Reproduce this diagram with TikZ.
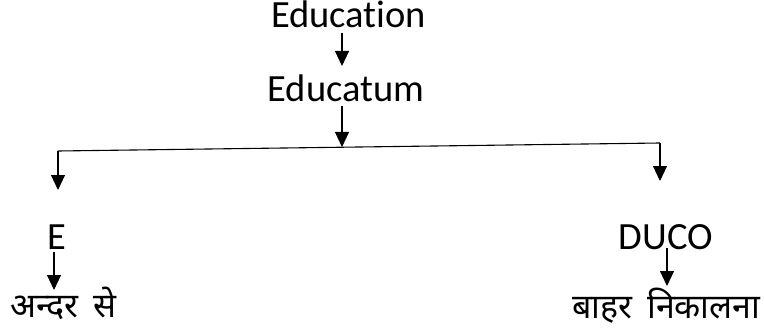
\documentclass[tikz,border=0pt]{standalone}
\usepackage{fontspec}
\setmainfont[Ligatures=NoCommon]{Carlito}
\newfontfamily\hindi[Script=Devanagari]{Noto Sans}
\usetikzlibrary{arrows.meta}
\tikzset{
  lbl/.style={anchor=base, inner sep=0pt, font=\fontsize{38.5}{44}\selectfont},
  hlbl/.style={anchor=base west, inner sep=0pt, font=\hindi\fontsize{34}{40}\selectfont},
  arr/.style={line width=1.1pt, -{Triangle[width=14pt,length=15pt]}},
  ln/.style={line width=1.1pt}
}
\begin{document}
\begin{tikzpicture}[x=1pt,y=-1pt]
\useasboundingbox (0,0) rectangle (764,329);
\node[lbl] (edu) at (348.5,28) {Education};
\node[lbl] (educatum) at (346,102) {Educatum};
\node[lbl] (e) at (57,249) {E};
\node[lbl] (duco) at (666,249) {DUCO};
\node[hlbl] (andar) at (10,317) {अन्दर\hspace{6pt} से};
\node[hlbl] (bahar) at (572,318) {बाहर\hspace{6pt} निकालना};
% connector points
\coordinate (a1s) at (342,33);
\coordinate (a1e) at (342,66);
\coordinate (a2s) at (342,106);
\coordinate (mid) at (342,147);
\coordinate (lc) at (58,151);
\coordinate (rc) at (660,143);
\coordinate (lend) at (58,190);
\coordinate (rend) at (660,181);
\coordinate (ea) at (54,252);
\coordinate (eb) at (54,290);
\coordinate (da) at (667,248);
\coordinate (db) at (667,286);
\draw[arr] (a1s) -- (a1e);
\draw[arr] (a2s) -- (mid);
\draw[ln] (lc) -- (rc);
\draw[arr] (lc) -- (lend);
\draw[arr] (rc) -- (rend);
\draw[arr] (ea) -- (eb);
\draw[arr] (da) -- (db);
\end{tikzpicture}
\end{document}
